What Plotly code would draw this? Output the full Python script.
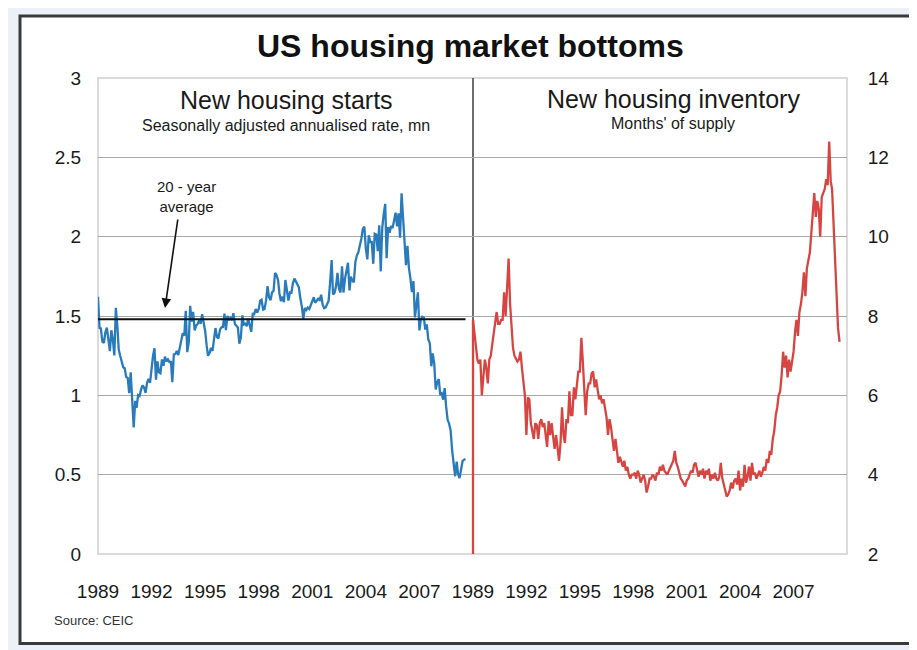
import pandas as pd
import plotly.graph_objects as go

# ---------------- data ----------------
# New housing starts, SAAR, thousands (monthly, from Jan 1989)
starts_k = [
    1621, 1425, 1422, 1339, 1331, 1397, 1427, 1332, 1279, 1410, 1351, 1251,  # 1989
    1551, 1437, 1289, 1248, 1212, 1177, 1171, 1115, 1110, 1014, 1145, 969,   # 1990
    798, 965, 921, 1001, 996, 1036, 1063, 1049, 1015, 1079, 1103, 1079,      # 1991
    1176, 1250, 1297, 1099, 1214, 1145, 1139, 1226, 1186, 1244, 1214, 1227,  # 1992
    1210, 1210, 1083, 1258, 1260, 1280, 1254, 1300, 1343, 1392, 1376, 1533,  # 1993
    1272, 1337, 1564, 1465, 1526, 1409, 1439, 1450, 1474, 1450, 1511, 1455,  # 1994
    1407, 1316, 1249, 1267, 1300, 1280, 1354, 1424, 1367, 1359, 1414, 1429,  # 1995
    1431, 1515, 1411, 1501, 1474, 1488, 1472, 1518, 1449, 1437, 1427, 1326,  # 1996
    1364, 1504, 1446, 1451, 1436, 1483, 1445, 1400, 1514, 1512, 1544, 1522,  # 1997
    1543, 1596, 1602, 1541, 1545, 1600, 1688, 1618, 1600, 1649, 1658, 1771,  # 1998
    1758, 1725, 1642, 1593, 1623, 1587, 1727, 1658, 1597, 1649, 1646, 1706,  # 1999
    1736, 1718, 1698, 1681, 1613, 1561, 1480, 1550, 1538, 1553, 1544, 1571,  # 2000
    1601, 1618, 1583, 1597, 1609, 1601, 1634, 1571, 1549, 1554, 1583, 1597,  # 2001
    1714, 1852, 1636, 1646, 1687, 1772, 1672, 1648, 1813, 1648, 1734, 1784,  # 2002
    1836, 1661, 1748, 1723, 1712, 1840, 1881, 1901, 1936, 1987, 2049, 2064,  # 2003
    1926, 1857, 2009, 1966, 1967, 1829, 2018, 2014, 1909, 2071, 1781, 2052,  # 2004
    2144, 2207, 1864, 2061, 2025, 2068, 2054, 2095, 2151, 2065, 2147, 1994,  # 2005
    2273, 2119, 1969, 1821, 1942, 1802, 1737, 1650, 1720, 1491, 1570, 1649,  # 2006
    1409, 1480, 1495, 1490, 1415, 1448, 1354, 1330, 1183, 1264, 1197, 1037,  # 2007
    1084, 1103, 1005, 1013, 973, 1046, 927, 844, 820, 777, 652, 560,         # 2008
    490, 582, 505, 478, 540, 585, 594, 598,                                  # 2009
]
starts_avg_20y = 1.48  # mn

# New housing inventory, months' of supply (monthly, from Jan 1989)
inventory = [
    7.9, 7.5, 7.2, 6.9, 6.8, 6.9, 6.0, 6.4, 6.9, 6.7, 6.3, 6.9,          # 1989
    7.0, 7.3, 7.6, 7.9, 8.1, 7.8, 7.8, 7.9, 7.9, 8.6, 8.0, 8.7,          # 1990
    9.45, 8.3, 7.6, 7.2, 7.0, 6.9, 6.85, 6.9, 7.1, 6.7, 6.3, 6.0,        # 1991
    5.0, 5.95, 5.9, 5.3, 5.1, 4.9, 5.3, 5.25, 4.9, 5.3, 5.4, 5.2,        # 1992
    5.3, 4.9, 4.7, 5.35, 5.0, 5.3, 4.9, 4.65, 5.0, 4.6, 4.35, 4.8,       # 1993
    5.7, 5.0, 4.8, 5.4, 5.3, 6.1, 5.5, 5.5, 6.2, 5.9, 6.3, 6.6,          # 1994
    6.6, 7.45, 6.9, 6.2, 5.5, 6.1, 6.3, 6.3, 6.55, 6.6, 6.2, 6.4,        # 1995
    6.1, 5.9, 6.0, 5.8, 5.9, 5.6, 5.45, 5.0, 5.4, 5.2, 4.9, 4.6,         # 1996
    4.9, 4.6, 4.3, 4.45, 4.3, 4.2, 4.35, 4.1, 4.2, 4.0, 3.9, 4.0,        # 1997
    4.0, 4.05, 3.9, 4.1, 4.0, 3.8, 3.9, 4.0, 3.85, 3.55, 3.7, 3.9,       # 1998
    3.9, 4.0, 3.95, 3.85, 4.05, 4.0, 4.2, 4.1, 4.25, 4.1, 4.05, 4.0,     # 1999
    4.1, 4.2, 4.3, 4.35, 4.6, 4.3, 4.2, 4.05, 3.9, 3.85, 3.75, 3.7,      # 2000
    3.85, 3.9, 4.0, 4.1, 4.05, 4.25, 4.3, 4.1, 3.95, 4.1, 4.0, 4.15,     # 2001
    3.9, 4.1, 4.0, 4.15, 3.85, 4.0, 3.9, 4.05, 3.9, 3.85, 3.95, 4.3,     # 2002
    3.9, 3.75, 3.6, 3.45, 3.5, 3.6, 3.8, 3.65, 3.85, 3.9, 3.75, 4.1,     # 2003
    3.6, 3.9, 3.7, 4.25, 3.8, 3.95, 4.2, 3.85, 4.3, 4.0, 4.05, 3.9,      # 2004
    4.0, 4.1, 3.95, 4.05, 4.2, 4.1, 4.4, 4.3, 4.6, 4.5, 4.9, 5.1,        # 2005
    5.5, 5.7, 6.0, 6.1, 6.5, 7.1, 6.7, 7.0, 6.45, 6.9, 6.6, 6.8,         # 2006
    7.1, 7.6, 7.9, 7.5, 8.1, 8.3, 8.6, 9.1, 8.5, 9.2, 9.4, 9.6,          # 2007
    10.1, 10.6, 11.1, 10.5, 10.9, 10.7, 10.0, 11.0, 11.1, 11.2, 11.45, 11.3,  # 2008
    12.4, 11.4, 11.2, 10.2, 9.3, 8.4, 7.7, 7.35,                          # 2009
]

series_start = "1989-01-01"
axis_end = "2010-01-01"
tick_years = ["1989", "1992", "1995", "1998", "2001", "2004", "2007"]
left_y_range = [0, 3]
right_y_range = [2, 14]

title_text = "US housing market bottoms"
left_title = "New housing starts"
left_sub = "Seasonally adjusted annualised rate, mn"
right_title = "New housing inventory"
right_sub = "Months' of supply"
avg_label = "20 - year<br>average"
source_text = "Source: CEIC"

# ---------------- derived ----------------
starts = [v / 1000 for v in starts_k]
starts_dates = pd.date_range(series_start, periods=len(starts), freq="MS")
inv_dates = pd.date_range(series_start, periods=len(inventory), freq="MS")
tickvals = [f"{y}-01-01" for y in tick_years]

BLUE = "#2a7bbb"
RED = "#d64541"
FONT = "Liberation Sans, Arial, sans-serif"
TXT = "#1a1a1a"

OFF = 8  # page body margin in the browser
W, H = 917, 650
# plot area on screen: x 98..847, y 78..554
L, T = 98 - OFF, 78 - OFF
R = W - (847 - OFF)
B = H - (554 - OFF)
PW, PH = W - L - R, H - T - B


def px(x):  # screen x -> paper
    return (x - OFF - L) / PW


def py(y):  # screen y -> paper
    return (H - B - (y - OFF)) / PH


split = 375 / PW

fig = go.Figure()

fig.add_trace(go.Scatter(
    x=starts_dates, y=starts, mode="lines",
    line=dict(color=BLUE, width=2.3), xaxis="x", yaxis="y", showlegend=False,
))
fig.add_trace(go.Scatter(
    x=[starts_dates[0], starts_dates[-1]], y=[starts_avg_20y, starts_avg_20y],
    mode="lines", line=dict(color="#111111", width=2), xaxis="x", yaxis="y",
    showlegend=False,
))
fig.add_trace(go.Scatter(
    x=inv_dates, y=inventory, mode="lines",
    line=dict(color=RED, width=2.3), xaxis="x2", yaxis="y2", showlegend=False,
))

tickfont = dict(family=FONT, size=19, color=TXT)
xcommon = dict(
    type="date", range=[series_start, axis_end], tickmode="array",
    tickvals=tickvals, ticktext=tick_years, tickfont=tickfont,
    showgrid=False, zeroline=False, showline=False,
    ticks="outside", ticklen=20, tickcolor="rgba(0,0,0,0)",
)

fig.update_layout(
    width=W, height=H,
    margin=dict(l=L, r=R, t=T, b=B, pad=0),
    paper_bgcolor="white",
    plot_bgcolor="rgba(0,0,0,0)",
    font=dict(family=FONT, color=TXT),
    xaxis=dict(domain=[0, split], anchor="y", **xcommon),
    xaxis2=dict(domain=[split, 1], anchor="y2", **xcommon),
    yaxis=dict(
        range=left_y_range, dtick=0.5, anchor="x", showgrid=True,
        gridcolor="#a8a8a8", gridwidth=1.3, zeroline=False, tickfont=tickfont,
        ticks="outside", ticklen=12, tickcolor="rgba(0,0,0,0)",
    ),
    yaxis2=dict(
        range=right_y_range, dtick=2, anchor="x2", side="right", showgrid=True,
        gridcolor="#a8a8a8", gridwidth=1.3, zeroline=False, tickfont=tickfont,
        ticks="outside", ticklen=16, tickcolor="rgba(0,0,0,0)",
    ),
    showlegend=False,
)

shapes = [
    # page background
    dict(type="rect", xref="paper", yref="paper", x0=px(6), x1=px(960),
         y0=py(700), y1=py(8), fillcolor="#ecf0f8", line=dict(width=0),
         layer="below"),
    # white framed panel
    dict(type="rect", xref="paper", yref="paper", x0=px(20), x1=px(960),
         y0=py(643.5), y1=py(16), fillcolor="white",
         line=dict(color="#3a3a3a", width=3), layer="below"),
    # plot area border
    dict(type="rect", xref="paper", yref="paper", x0=0, x1=1, y0=0, y1=1,
         line=dict(color="#cfcfcf", width=1.5), layer="below"),
    # divider between panels
    dict(type="line", xref="paper", yref="paper", x0=split, x1=split, y0=0, y1=1,
         line=dict(color="#3c3c3c", width=1.5), layer="below"),
    # red series drop at start of right panel (from axis floor to first value)
    dict(type="line", xref="paper", yref="y2", x0=split, x1=split,
         y0=right_y_range[0], y1=inventory[0],
         line=dict(color=RED, width=2.3), layer="above"),
]
fig.update_layout(shapes=shapes)

ann = [
    dict(text=f"<b>{title_text}</b>", xref="paper", yref="paper",
         x=px(470), y=py(46), xanchor="center", yanchor="middle",
         showarrow=False, font=dict(size=32, family=FONT, color="#111111")),
    dict(text=left_title, xref="paper", yref="paper", x=px(286), y=py(100),
         xanchor="center", yanchor="middle", showarrow=False,
         font=dict(size=25, family=FONT, color=TXT)),
    dict(text=left_sub, xref="paper", yref="paper", x=px(286), y=py(126),
         xanchor="center", yanchor="middle", showarrow=False,
         font=dict(size=16, family=FONT, color=TXT)),
    dict(text=right_title, xref="paper", yref="paper", x=px(673), y=py(99),
         xanchor="center", yanchor="middle", showarrow=False,
         font=dict(size=25, family=FONT, color=TXT)),
    dict(text=right_sub, xref="paper", yref="paper", x=px(673), y=py(123),
         xanchor="center", yanchor="middle", showarrow=False,
         font=dict(size=16, family=FONT, color=TXT)),
    dict(text=avg_label, xref="paper", yref="paper", x=px(186), y=py(196),
         xanchor="center", yanchor="middle", showarrow=False,
         font=dict(size=15, family=FONT, color=TXT)),
    dict(text="", xref="paper", yref="paper", x=px(165), y=py(308),
         ax=13, ay=-90, showarrow=True, arrowhead=2, arrowsize=1.2,
         arrowwidth=1.6, arrowcolor="#111111"),
    dict(text=source_text, xref="paper", yref="paper", x=px(52), y=py(620),
         xanchor="left", yanchor="middle", showarrow=False,
         font=dict(size=13, family=FONT, color="#333333")),
]
fig.update_layout(annotations=ann)

fig.write_html("out.html")
